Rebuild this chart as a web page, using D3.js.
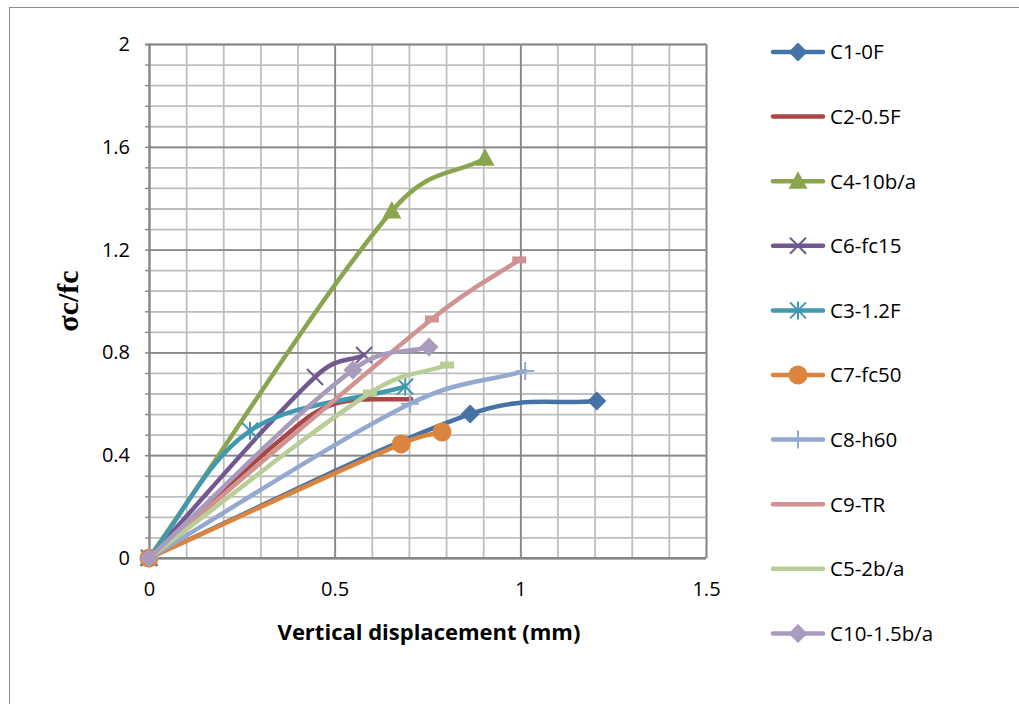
<!DOCTYPE html>
<html>
<head>
<meta charset="utf-8">
<script src="https://cdn.jsdelivr.net/npm/d3@7"></script>
<style>
  body { margin: 0; background: #fff; }
  svg { display: block; }
</style>
</head>
<body>
<svg width="1019" height="704"></svg>
<script>
// series (x = vertical displacement mm, y = σc/fc)
const seriesNames = ["C1-0F", "C2-0.5F", "C4-10b/a", "C6-fc15", "C3-1.2F",
                     "C7-fc50", "C8-h60", "C9-TR", "C5-2b/a", "C10-1.5b/a"];
const seriesColors = ["#4572A7", "#AA4643", "#89A54E", "#71588F", "#4198AF",
                      "#DB843D", "#93A9CF", "#D19392", "#B9CD96", "#A99BBD"];
const seriesMarkers = ["diamond", "none", "triangle", "x", "star",
                       "circle", "plus", "dash", "dash", "diamond"];

const xC1 = [0, 0.865, 1.206];       const yC1 = [0, 0.56, 0.611];
const xC2 = [0, 0.35, 0.5, 0.706];   const yC2 = [0, 0.455, 0.6, 0.619];
const xC4 = [0, 0.654, 0.905];       const yC4 = [0, 1.35, 1.555];
const xC6 = [0, 0.447, 0.579];       const yC6 = [0, 0.704, 0.79];
const xC3 = [0, 0.272, 0.69];        const yC3 = [0, 0.495, 0.667];
const xC7 = [0, 0.679, 0.789];       const yC7 = [0, 0.444, 0.49];
const xC8 = [0, 0.703, 1.013];       const yC8 = [0, 0.6, 0.728];
const xC9 = [0, 0.762, 0.997];       const yC9 = [0, 0.93, 1.16];
const xC5 = [0, 0.595, 0.803];       const yC5 = [0, 0.642, 0.751];
const xC10 = [0, 0.549, 0.754];      const yC10 = [0, 0.732, 0.821];

const allX = [xC1, xC2, xC4, xC6, xC3, xC7, xC8, xC9, xC5, xC10];
const allY = [yC1, yC2, yC4, yC6, yC3, yC7, yC8, yC9, yC5, yC10];

const xTicks = [0, 0.5, 1, 1.5];
const yTicks = [0, 0.4, 0.8, 1.2, 1.6, 2];
const xMinor = d3.range(0, 1.5001, 0.1);
const yMinor = d3.range(0, 2.0001, 0.08);

const font = "'Open Sans', 'Liberation Sans', sans-serif";

// smoothed line like the spreadsheet's: tangent P(i+1)-P(i-1), handle length
// weighted by sqrt of the neighbouring segment lengths so short segments don't overshoot
function curveSmooth(context) {
  let pts = [];
  return {
    areaStart() {}, areaEnd() {},
    lineStart() { pts = []; },
    point(x, y) { pts.push([+x, +y]); },
    lineEnd() {
      const n = pts.length;
      if (!n) return;
      context.moveTo(pts[0][0], pts[0][1]);
      if (n === 1) return;
      const dist = (a, b) => Math.sqrt(Math.hypot(b[0] - a[0], b[1] - a[1]));
      const outH = [], inH = [];
      for (let i = 0; i < n; i++) {
        const prev = pts[Math.max(i - 1, 0)], next = pts[Math.min(i + 1, n - 1)];
        const dp = dist(prev, pts[i]), dn = dist(pts[i], next);
        const tx = next[0] - prev[0], ty = next[1] - prev[1];
        const s = dp + dn || 1;
        outH.push([pts[i][0] + tx * dn / s / 3, pts[i][1] + ty * dn / s / 3]);
        inH.push([pts[i][0] - tx * dp / s / 3, pts[i][1] - ty * dp / s / 3]);
      }
      for (let i = 0; i < n - 1; i++) {
        context.bezierCurveTo(outH[i][0], outH[i][1], inH[i + 1][0], inH[i + 1][1],
                              pts[i + 1][0], pts[i + 1][1]);
      }
    }
  };
}

const svg = d3.select("svg");

// outer chart frame
svg.append("rect")
  .attr("x", 9.5).attr("y", 7.5).attr("width", 1200).attr("height", 900)
  .attr("fill", "#fff").attr("stroke", "#8c8c8c").attr("stroke-width", 1);

const xScale = d3.scaleLinear().domain([0, 1.5]).range([149, 706]);
const yScale = d3.scaleLinear().domain([0, 2]).range([558, 44]);

// minor grid
svg.append("g").attr("transform", "translate(0,558)")
  .call(d3.axisBottom(xScale).tickValues(xMinor).tickSize(-514).tickFormat(""))
  .call(g => g.select(".domain").remove())
  .selectAll("line").attr("stroke", "#bebebe").attr("stroke-width", 1.8);
svg.append("g").attr("transform", "translate(149,0)")
  .call(d3.axisLeft(yScale).tickValues(yMinor).tickSize(-557).tickFormat(""))
  .call(g => g.select(".domain").remove())
  .selectAll("line").attr("stroke", "#bebebe").attr("stroke-width", 1.8);

// major grid
svg.append("g").attr("transform", "translate(0,558)")
  .call(d3.axisBottom(xScale).tickValues(xTicks).tickSize(-514).tickFormat(""))
  .call(g => g.select(".domain").remove())
  .selectAll("line").attr("stroke", "#888").attr("stroke-width", 1.8);
svg.append("g").attr("transform", "translate(149,0)")
  .call(d3.axisLeft(yScale).tickValues(yTicks).tickSize(-557).tickFormat(""))
  .call(g => g.select(".domain").remove())
  .selectAll("line").attr("stroke", "#888").attr("stroke-width", 1.8);

// small ticks on the y axis
svg.append("g").attr("transform", "translate(149,0)")
  .call(d3.axisLeft(yScale).tickValues(yMinor).tickSize(4).tickFormat(""))
  .call(g => g.select(".domain").attr("stroke", "#868686").attr("stroke-width", 1.8))
  .selectAll("line").attr("stroke", "#868686").attr("stroke-width", 1.4);
svg.append("line")
  .attr("x1", 149).attr("x2", 706).attr("y1", 558).attr("y2", 558)
  .attr("stroke", "#868686").attr("stroke-width", 1.8);

// tick labels
const xAxis = svg.append("g").attr("transform", "translate(0,558)")
  .call(d3.axisBottom(xScale).tickValues(xTicks).tickSize(0).tickPadding(24).tickFormat(d3.format("")));
xAxis.select(".domain").remove();
xAxis.selectAll("text").attr("font-family", font).attr("font-size", 20).attr("fill", "#000");

const yAxis = svg.append("g").attr("transform", "translate(149,0)")
  .call(d3.axisLeft(yScale).tickValues(yTicks).tickSize(0).tickPadding(19).tickFormat(d3.format("")));
yAxis.select(".domain").remove();
yAxis.selectAll("text").attr("font-family", font).attr("font-size", 20).attr("fill", "#000");

// axis titles
svg.append("text")
  .attr("x", 429).attr("y", 640).attr("text-anchor", "middle")
  .attr("font-family", font).attr("font-weight", "bold").attr("font-size", 22)
  .text("Vertical displacement (mm)");
svg.append("text")
  .attr("transform", "translate(78,301) rotate(-90)").attr("text-anchor", "middle")
  .attr("font-family", "'Liberation Serif', 'DejaVu Serif', serif").attr("font-weight", "bold").attr("font-size", 30)
  .text("σc/fc");

// markers
function drawMarker(g, type, color, cx, cy) {
  const s = g.append("g").attr("transform", `translate(${cx},${cy})`);
  if (type === "diamond") {
    s.append("path").attr("d", "M0,-9.5L9.5,0L0,9.5L-9.5,0Z").attr("fill", color);
  } else if (type === "triangle") {
    s.append("path").attr("d", "M0,-10L9.5,7.5L-9.5,7.5Z").attr("fill", color);
  } else if (type === "circle") {
    s.append("circle").attr("r", 9.5).attr("fill", color);
  } else if (type === "x") {
    s.append("path").attr("d", "M-8,-8L8,8M-8,8L8,-8")
      .attr("stroke", color).attr("stroke-width", 2);
  } else if (type === "star") {
    s.append("path").attr("d", "M-8,-8L8,8M-8,8L8,-8M0,-9L0,9")
      .attr("stroke", color).attr("stroke-width", 2);
  } else if (type === "plus") {
    s.append("path").attr("d", "M-9,0L9,0M0,-9L0,9")
      .attr("stroke", color).attr("stroke-width", 2);
  } else if (type === "dash") {
    s.append("rect").attr("x", -7).attr("y", -3.5).attr("width", 14).attr("height", 7)
      .attr("fill", color);
  }
}

const line = d3.line()
  .x(d => xScale(d[0]))
  .y(d => yScale(d[1]))
  .curve(curveSmooth);

const plot = svg.append("g");
seriesNames.forEach((name, i) => {
  const pts = allX[i].map((x, j) => [x, allY[i][j]]);
  plot.append("path")
    .attr("d", line(pts))
    .attr("fill", "none")
    .attr("stroke", seriesColors[i])
    .attr("stroke-width", 4.5)
    .attr("stroke-linecap", "round")
    .attr("stroke-linejoin", "round");
  pts.forEach(p => drawMarker(plot, seriesMarkers[i], seriesColors[i], xScale(p[0]), yScale(p[1])));
});

// legend
const legend = svg.append("g");
seriesNames.forEach((name, i) => {
  const ly = 52 + i * 64.6;
  legend.append("line")
    .attr("x1", 773).attr("x2", 823).attr("y1", ly).attr("y2", ly)
    .attr("stroke", seriesColors[i]).attr("stroke-width", 4.5).attr("stroke-linecap", "round");
  if (seriesMarkers[i] !== "dash") drawMarker(legend, seriesMarkers[i], seriesColors[i], 798, ly);
  legend.append("text")
    .attr("x", 830).attr("y", ly).attr("dy", "0.36em")
    .attr("font-family", font).attr("font-size", 20.5).attr("fill", "#000")
    .text(name);
});
</script>
</body>
</html>
